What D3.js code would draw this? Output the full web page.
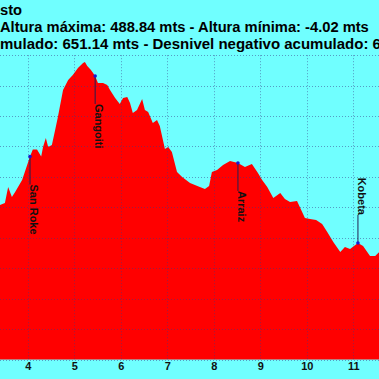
<!DOCTYPE html>
<html>
<head>
<meta charset="utf-8">
<script src="https://cdn.jsdelivr.net/npm/d3@7"></script>
<style>
html,body{margin:0;padding:0;background:#70ffff;overflow:hidden;}
svg{display:block;}
</style>
</head>
<body>
<svg id="chart" width="379" height="379"></svg>
<script>
// ---- data ----
const titleLines = [
  "Agosto",
  "Altura máxima: 488.84 mts - Altura mínima: -4.02 mts",
  "Desnivel positivo acumulado: 651.14 mts - Desnivel negativo acumulado: 665.90 mts"
];
const kmTicks = [4, 5, 6, 7, 8, 9, 10, 11];
const altTicks = [0, 50, 100, 150, 200, 250, 300, 350, 400, 450, 500];
const profileKm = [3.40, 3.51, 3.58, 3.66, 3.73, 3.88, 4.05, 4.11, 4.20, 4.29, 4.33, 4.39, 4.44, 4.52, 4.59, 4.65, 4.76, 4.87, 4.97, 5.08, 5.19, 5.23, 5.28, 5.36, 5.45, 5.51, 5.62, 5.71, 5.77, 5.88, 5.98, 6.05, 6.14, 6.20, 6.26, 6.35, 6.46, 6.52, 6.59, 6.69, 6.78, 6.84, 6.95, 7.02, 7.10, 7.21, 7.32, 7.49, 7.70, 7.81, 7.90, 7.96, 8.07, 8.20, 8.35, 8.52, 8.67, 8.82, 8.95, 9.04, 9.15, 9.28, 9.43, 9.53, 9.64, 9.79, 9.86, 9.96, 10.07, 10.20, 10.33, 10.44, 10.57, 10.72, 10.82, 10.93, 11.10, 11.21, 11.36, 11.47, 11.56];
const profileAlt = [253.9, 257.2, 283.5, 267.0, 275.3, 295.0, 333.6, 345.1, 345.1, 333.6, 349.2, 364.0, 349.2, 352.5, 377.3, 398.7, 442.9, 459.3, 467.6, 479.0, 487.3, 488.8, 482.3, 475.8, 465.9, 454.4, 454.4, 451.1, 442.9, 429.7, 419.9, 429.7, 431.4, 421.5, 405.1, 410.0, 428.1, 410.0, 406.7, 388.6, 393.6, 383.7, 345.8, 349.2, 340.9, 308.1, 299.8, 290.0, 283.5, 280.2, 285.1, 308.1, 311.4, 319.6, 326.2, 322.9, 316.4, 321.3, 306.5, 295.0, 283.5, 265.4, 273.6, 263.8, 258.8, 260.5, 249.0, 232.5, 230.9, 229.2, 222.7, 209.5, 193.1, 176.7, 184.9, 181.6, 191.5, 186.5, 170.1, 170.1, 176.7];
const wpNames = ["San Roke", "Gangoiti", "Arraiz", "Kobeta"];
const wpKm = [4.05, 5.45, 8.52, 11.10];
const wpAlt = [333.6, 465.9, 322.9, 191.5];
const wpSide = ["below", "below", "below", "above"];

// ---- drawing ----
const W = 379, H = 379;
const svg = d3.select("#chart");
const x = d3.scaleLinear().domain([4, 11]).range([27.7, 353.3]);
const y = d3.scaleLinear().domain([0, 500]).range([359.5, 55.2]);

svg.append("rect").attr("width", W).attr("height", H).attr("fill", "#70ffff");

const profile = profileKm.map((k, i) => ({km: k, alt: profileAlt[i]}));
const area = d3.area().x(d => x(d.km)).y0(y(0)).y1(d => y(d.alt));
svg.append("path").datum(profile).attr("d", area).attr("fill", "#ff0000");

// grid
const grid = svg.append("g").attr("stroke", "#3a3a8a").attr("stroke-opacity", 0.5)
  .attr("stroke-dasharray", "1,2").attr("stroke-width", 1);
grid.selectAll("line.v").data(kmTicks).enter().append("line")
  .attr("x1", d => Math.round(x(d)) + 0.5).attr("x2", d => Math.round(x(d)) + 0.5)
  .attr("y1", y(500)).attr("y2", y(0));
grid.selectAll("line.h").data(altTicks).enter().append("line")
  .attr("x1", 0).attr("x2", W)
  .attr("y1", d => Math.round(y(d)) + 0.5).attr("y2", d => Math.round(y(d)) + 0.5);

// bottom axis
const axis = svg.append("g").attr("transform", `translate(0,${y(0)})`)
  .call(d3.axisBottom(x).tickValues(kmTicks).tickSize(0).tickPadding(3).tickFormat(d3.format("d")));
axis.select(".domain").remove();
axis.selectAll("text").attr("font-family", "'Liberation Sans', Arial, sans-serif")
  .attr("font-weight", "bold").attr("font-size", 11).attr("fill", "#111");

// waypoints
const wp = svg.append("g");
wpNames.forEach((name, i) => {
  const mx = x(wpKm[i]), my = y(wpAlt[i]);
  const gap = 28;
  const ty = wpSide[i] === "below" ? my + gap : my - gap;
  wp.append("line").attr("x1", mx).attr("x2", mx).attr("y1", my).attr("y2", ty)
    .attr("stroke", "#202050").attr("stroke-width", 1);
  wp.append("circle").attr("cx", mx).attr("cy", my).attr("r", 1.8).attr("fill", "#1a1ad0");
  wp.append("text").attr("transform", `translate(${mx},${ty}) rotate(90)`)
    .attr("text-anchor", wpSide[i] === "below" ? "start" : "end")
    .attr("font-family", "'Liberation Sans', Arial, sans-serif")
    .attr("font-weight", "bold").attr("font-size", 11).attr("fill", "#111")
    .text(name);
});

// titles (cropped view of a centred title block)
const tg = svg.append("g").attr("font-family", "'Liberation Sans', Arial, sans-serif")
  .attr("font-weight", "bold").attr("fill", "#000");
const probe = tg.append("text").attr("font-size", 14).text(titleLines[1]);
const fs = 14 * 369 / probe.node().getComputedTextLength();
probe.remove();
// line 3: visible part "mulado: ... acumulado: " spans about 373px
const pre3 = "Desnivel positivo acu".length;
const vis3End = titleLines[2].lastIndexOf(": ") + 2;
const probe3 = tg.append("text").attr("font-size", 14).text(titleLines[2]);
const fs3 = 14 * 373 / probe3.node().getSubStringLength(pre3, vis3End - pre3);
probe3.remove();
const sizes = [fs, fs, fs3];
const baselines = [15, 32, 49];
const hiddenPrefix = [3, 0, pre3];
titleLines.forEach((t, i) => {
  const el = tg.append("text").attr("font-size", sizes[i]).attr("y", baselines[i]).text(t);
  const off = hiddenPrefix[i] > 0 ? el.node().getSubStringLength(0, hiddenPrefix[i]) : 0;
  el.attr("x", -off);
});
</script>
</body>
</html>
